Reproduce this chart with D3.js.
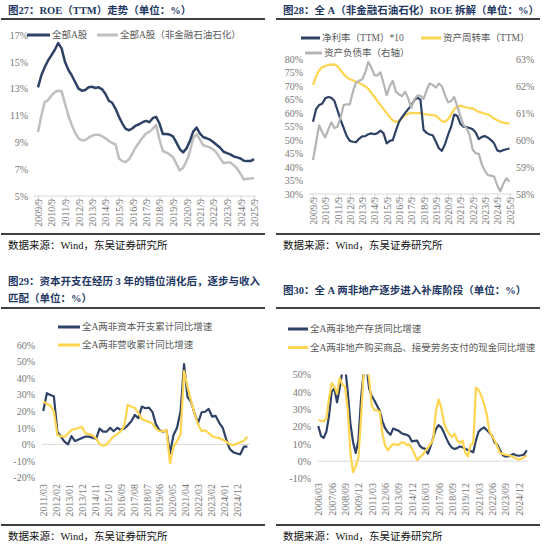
<!DOCTYPE html>
<html>
<head>
<meta charset="utf-8">
<script src="https://cdn.jsdelivr.net/npm/d3@7"></script>
<style>
  body { margin: 0; background: #fff; }
  text { font-family: 'Liberation Serif', 'Noto Sans CJK SC', serif; }
</style>
</head>
<body>
<svg id="chart"></svg>
<script>
// ---- 图27 ROE (TTM), quarterly 2009/9 - 2025/9
const roeTicks = ['2009/9', '2010/9', '2011/9', '2012/9', '2013/9', '2014/9', '2015/9', '2016/9', '2017/9',
  '2018/9', '2019/9', '2020/9', '2021/9', '2022/9', '2023/9', '2024/9', '2025/9'];
const roeAll = [13.1, 14.0, 14.6, 15.1, 15.5, 15.9, 16.4, 16.0, 15.0, 14.4, 14.0, 13.5, 13.0, 12.85, 12.9, 13.1,
  13.15, 13.05, 13.1, 12.95, 12.6, 12.1, 11.95, 11.5, 10.9, 10.4, 10.0, 9.9, 10.05, 10.25, 10.35, 10.5, 10.6,
  10.5, 10.8, 10.9, 10.4, 9.62, 9.62, 9.58, 9.45, 9.0, 8.5, 8.25, 8.55, 9.1, 9.8, 10.1, 9.65, 9.38, 9.3, 9.2,
  9.0, 8.8, 8.6, 8.3, 8.2, 8.1, 7.95, 7.88, 7.8, 7.62, 7.6, 7.6, 7.75];
const roeExFin = [9.77, 11.0, 12.0, 12.15, 12.5, 12.75, 12.85, 12.8, 11.9, 11.0, 10.3, 9.7, 9.3, 9.15, 9.15, 9.35,
  9.5, 9.57, 9.57, 9.45, 9.3, 9.1, 8.95, 8.85, 7.8, 7.6, 7.53, 7.75, 8.2, 8.65, 9.0, 9.35, 9.65, 9.78, 10.0,
  10.3, 9.2, 8.35, 8.25, 8.1, 7.9, 7.4, 6.9, 7.1, 7.6, 8.3, 9.3, 9.6, 9.2, 8.78, 8.7, 8.6, 8.45, 8.2, 7.8,
  7.46, 7.5, 7.5, 7.3, 7.05, 6.65, 6.22, 6.28, 6.3, 6.33];

// ---- 图28 ROE decomposition
const netMargin10 = [56.8, 61.5, 63.0, 63.5, 65.5, 66.0, 65.7, 64.5, 61.0, 57.5, 54.5, 51.5, 49.7, 49.4, 49.2,
  50.5, 51.4, 51.5, 52.2, 52.5, 52.2, 52.6, 53.5, 52.5, 48.8, 49.7, 50.0, 53.5, 56.8, 58.5, 60.0, 61.5, 62.8,
  64.8, 65.8, 65.0, 53.8, 52.7, 52.1, 51.8, 49.5, 47.0, 46.0, 48.5, 52.0, 55.0, 59.5, 59.0, 56.0, 55.0, 54.8,
  54.5, 54.0, 52.8, 50.4, 51.2, 51.5, 50.9, 50.0, 48.8, 46.2, 45.8, 46.3, 46.6, 46.9];
const assetTurnover = [70.5, 73.5, 75.9, 77.0, 77.5, 77.9, 78.0, 78.1, 77.4, 76.0, 74.5, 73.3, 72.6, 72.2, 71.7,
  71.2, 70.6, 70.0, 69.1, 67.5, 66.1, 64.5, 63.0, 61.5, 60.0, 58.6, 57.3, 56.7, 57.2, 58.2, 59.3, 59.8, 60.0,
  60.0, 60.0, 60.0, 59.8, 59.5, 59.4, 59.3, 59.1, 58.0, 57.0, 56.8, 57.8, 59.5, 61.5, 62.5, 62.8, 62.4, 62.1,
  61.9, 61.8, 61.1, 60.5, 60.2, 59.8, 59.5, 58.8, 58.0, 57.4, 56.8, 56.5, 56.3, 56.2];
const debtRatio = [59.26, 59.9, 60.55, 60.3, 60.1, 60.4, 60.66, 60.45, 60.5, 60.85, 61.3, 61.33, 61.33, 61.8,
  62.13, 62.2, 62.25, 62.5, 62.9, 62.7, 62.4, 62.4, 62.52, 62.1, 61.67, 62.0, 62.2, 61.8, 61.7, 61.63, 61.8,
  61.56, 61.2, 61.5, 61.65, 61.65, 61.53, 61.85, 62.1, 62.05, 61.95, 62.1, 62.0, 61.67, 61.4, 61.45, 61.6,
  61.25, 60.9, 60.56, 60.45, 60.2, 59.65, 59.51, 59.5, 59.1, 58.85, 58.7, 58.68, 58.65, 58.32, 58.1, 58.38,
  58.58, 58.46];

// ---- 图29 capex vs revenue, quarterly 2011/03 - 2025/09
const capexTicks = ['2011/03', '2012/02', '2013/01', '2013/12', '2014/11', '2015/10', '2016/09', '2017/08',
  '2018/07', '2019/06', '2020/05', '2021/04', '2022/03', '2023/02', '2024/01', '2024/12'];
const capexGrowth = [20.2, 30.9, 29.8, 29.0, 7.5, 4.6, 1.7, 0, 5.0, 2.0, 2.9, 3.9, 4.7, 4.7, 4.0, 3.3, 9.5, 7.7,
  7.7, 10.0, 7.9, 10.0, 8.7, 9.6, 11.5, 14, 17.8, 15.8, 22.8, 21.8, 22.2, 19.6, 12.2, 8.5, 7.7, 8.5, -5.4, 5.7,
  10, 20, 48.4, 28.5, 25.5, 18.5, 13, 19.4, 19.7, 21.4, 16.8, 17.2, 13.0, 10, 3, -2.8, -4.8, -5.5, -6.0, -1.4,
  -1.4];
const revenueGrowth = [26.0, 24.5, 23.3, 20, 5.7, 4.8, 4.7, 6.5, 8.8, 9.3, 10.0, 10.5, 6.6, 6.2, 5.5, 3.5, 0.2,
  -0.8, 0, 2.5, 4.8, 6.2, 8.0, 11, 23.8, 22.9, 22.0, 19, 15.3, 14.4, 13.6, 12.5, 9.5, 8, 7.8, 8.7, -11.4, -1.5,
  2.0, 6.0, 44.3, 34.5, 26, 18.5, 12, 8.1, 8.5, 7, 4.9, 4.3, 3.8, 2.8, 1.6, 0, -0.4, 0.5, 1.3, 2.2, 4.7];

// ---- 图30 inventory vs cash paid, quarterly 2006/03 - 2025/09
const invTicks = ['2006/03', '2007/06', '2008/09', '2009/12', '2011/03', '2012/06', '2013/09', '2014/12',
  '2016/03', '2017/06', '2018/09', '2019/12', '2021/03', '2022/06', '2023/09', '2024/12'];
const inventoryGrowth = [20.3, 14.5, 13.4, 17, 26, 40, 42, 34, 42, 52, 55, 40, 22, 11, 4.7, 12, 36, 52, 55, 42,
  37.5, 35, 32, 29, 23, 19, 16.7, 15.2, 18.8, 18.2, 17.6, 16.3, 15.6, 15.3, 14.4, 11.4, 11.7, 11.8, 8.8, 7.5,
  7.2, 4.3, 8.5, 13.5, 18.3, 20.8, 19.5, 16.5, 13, 9.8, 7.8, 7.0, 7.5, 8.5, 8.0, 7.2, 6.5, 5.8, 5.1, 12,
  17, 18.5, 19.5, 18, 16.5, 14.8, 10.7, 9.6, 6.5, 3.6, 2.7, 2.7, 3.3, 4.2, 3.4, 3.1, 3.4, 3.8, 6.2];
const cashPaidGrowth = [23.6, 23.3, 23, 24.5, 36, 45, 43, 39, 48, 44, 43, 30, 5, -6.3, -3, 2, 25, 52, 55, 48,
  32, 29.4, 29.4, 28.5, 16, 9, 6.3, 8.2, 10, 9.5, 9.3, 10.7, 10.9, 9.3, 9.7, 7.3, 4.2, 0.6, 2.2, 3.6,
  5.8, 7.7, 10, 12.5, 28.5, 35.6, 31, 22.5, 18, 15.7, 14, 15.8, 12, 10.5, 11.8, 5, 2.8, 9.5, 10.1, 42.5,
  41, 38, 33, 27.5, 17.5, 14.5, 12, 8.5, 4.8, 4.2, 3.7, 3.4, 3.1, 2.3, 1.5, 1.0, 1.3, 2.2, 3.4];

const navy = '#2E4265';
const yellow = '#FFD44F';
const grey = '#BFBFBF';
const labelColor = '#767676';

const svg = d3.select('#chart').attr('width', 550).attr('height', 548);
svg.append('rect').attr('width', 550).attr('height', 548).attr('fill', '#fff');

const parseTick = d3.timeParse('%Y/%m');
const quarterly = (start, n) => d3.range(n).map((i) => d3.timeMonth.offset(start, 3 * i));

function frame(x0, titles, titleY, ruleY, footRuleY) {
  titles.forEach((t, i) => {
    svg.append('text')
      .attr('x', x0 + 8).attr('y', titleY + i * 17)
      .attr('fill', '#1F3864').attr('font-size', 10.5).attr('font-weight', 'bold')
      .text(t);
  });
  [ruleY, footRuleY].forEach((y) => {
    svg.append('line')
      .attr('x1', x0 + 1).attr('x2', x0 + 265).attr('y1', y).attr('y2', y)
      .attr('stroke', '#000').attr('stroke-width', 1.3);
  });
  svg.append('text')
    .attr('x', x0 + 8).attr('y', footRuleY + 11)
    .attr('dominant-baseline', 'central').attr('font-size', 10.5).attr('fill', '#111')
    .text('数据来源：Wind，东吴证券研究所');
}

function yAxis(scale, ticks, x, right) {
  let axis = (right ? d3.axisRight(scale) : d3.axisLeft(scale))
    .tickValues(ticks).tickFormat((d) => d + '%').tickSize(0).tickPadding(0);
  let g = svg.append('g').attr('transform', `translate(${x},0)`).call(axis);
  g.select('.domain').remove();
  g.selectAll('text').attr('fill', labelColor).attr('font-size', 10);
}

function xAxis(scale, labels, y, tickLen, gap) {
  let axis = d3.axisBottom(scale)
    .tickValues(labels.map(parseTick))
    .tickFormat((d, i) => labels[i])
    .tickSizeInner(tickLen).tickSizeOuter(0);
  let g = svg.append('g').attr('transform', `translate(0,${y})`).call(axis);
  g.select('.domain').remove();
  g.selectAll('line').attr('stroke', '#D9D9D9');
  g.selectAll('text')
    .attr('transform', 'rotate(-90)')
    .attr('text-anchor', 'end')
    .attr('x', -gap).attr('y', 0).attr('dy', '0.35em')
    .attr('fill', labelColor).attr('font-size', 10);
}

function hline(x1, x2, y) {
  svg.append('line').attr('x1', x1).attr('x2', x2).attr('y1', y).attr('y2', y)
    .attr('stroke', '#D9D9D9').attr('stroke-width', 1);
}

function series(x, y, dates, values, color, width, clipId) {
  svg.append('path')
    .datum(values)
    .attr('d', d3.line().x((d, i) => x(dates[i])).y((d) => y(d)))
    .attr('fill', 'none').attr('stroke', color).attr('stroke-width', width)
    .attr('stroke-linejoin', 'round')
    .attr('clip-path', clipId ? `url(#${clipId})` : null);
}

function legend(x, y, len, color, label) {
  svg.append('line').attr('x1', x).attr('x2', x + len).attr('y1', y).attr('y2', y)
    .attr('stroke', color).attr('stroke-width', 3);
  svg.append('text').attr('x', x + len + 2).attr('y', y)
    .attr('dominant-baseline', 'central').attr('font-size', 9.5).attr('fill', '#595959')
    .text(label);
}

// ================= 图27
{
  frame(0, ['图27：ROE（TTM）走势（单位：%）'], 14, 19, 234);
  let dates = quarterly(parseTick('2009/9'), roeAll.length);
  let x = d3.scaleTime().domain([dates[0], dates[dates.length - 1]]).range([38, 254]);
  let y = d3.scaleLinear().domain([5, 17]).range([196, 35]);
  yAxis(y, [5, 7, 9, 11, 13, 15, 17], 28, false);
  hline(34, 256, 196);
  xAxis(x, roeTicks, 196, 3, 3);
  series(x, y, dates, roeExFin, grey, 2.5);
  series(x, y, dates, roeAll, navy, 2.5);
  legend(27, 35, 23, navy, '全部A股');
  legend(97, 35, 21, grey, '全部A股（非金融石油石化）');
}

// ================= 图28
{
  frame(275, ['图28：全 A（非金融石油石化）ROE 拆解（单位：%）'], 14, 19, 234);
  let dates = quarterly(parseTick('2009/9'), netMargin10.length);
  let x = d3.scaleTime().domain([dates[0], dates[dates.length - 1]]).range([313, 509.5]);
  let yL = d3.scaleLinear().domain([30, 80]).range([194, 59.3]);
  let yR = d3.scaleLinear().domain([58, 63]).range([194, 59.3]);
  yAxis(yL, d3.range(30, 81, 5), 303, false);
  yAxis(yR, d3.range(58, 64, 1), 516, true);
  hline(309, 512, 194);
  xAxis(x, roeTicks, 194, 3, 3);
  series(x, yL, dates, assetTurnover, yellow, 2.2);
  series(x, yL, dates, netMargin10, navy, 2.2);
  series(x, yR, dates, debtRatio, '#B4B4B4', 2.2);
  legend(301, 38, 19, navy, '净利率（TTM）*10');
  legend(421, 38, 20, yellow, '资产周转率（TTM）');
  legend(305, 53, 17, '#B4B4B4', '资产负债率（右轴）');
}

// ================= 图29
{
  frame(0, ['图29：资本开支在经历 3 年的错位消化后，逐步与收入', '匹配（单位：%）'], 285, 308, 525);
  let dates = quarterly(parseTick('2011/03'), capexGrowth.length);
  let x = d3.scaleTime().domain([dates[0], dates[dates.length - 1]]).range([43.3, 247.4]);
  let y = d3.scaleLinear().domain([-20, 60]).range([477.5, 345]);
  yAxis(y, d3.range(-20, 61, 10), 35, false);
  hline(42, 250, y(0));
  xAxis(x, capexTicks, 482, 0, 2);
  series(x, y, dates, capexGrowth, navy, 2.2);
  series(x, y, dates, revenueGrowth, yellow, 2.2);
  legend(58, 327, 22, navy, '全A两非资本开支累计同比增速');
  legend(58, 345, 22, yellow, '全A两非营收累计同比增速');
}

// ================= 图30
{
  frame(275, ['图30：全 A 两非地产逐步进入补库阶段（单位：%）'], 294, 308, 525);
  let dates = quarterly(parseTick('2006/03'), inventoryGrowth.length);
  let x = d3.scaleTime().domain([dates[0], dates[dates.length - 1]]).range([318.3, 526.7]);
  let y = d3.scaleLinear().domain([-10, 50]).range([478.5, 374.5]);
  svg.append('clipPath').attr('id', 'clip30')
    .append('rect').attr('x', 310).attr('y', y(50)).attr('width', 230).attr('height', 120);
  yAxis(y, d3.range(-10, 51, 10), 311, false);
  hline(317.7, 528, y(0));
  xAxis(x, invTicks, 481, 0, 2);
  series(x, y, dates, inventoryGrowth, navy, 2.2, 'clip30');
  series(x, y, dates, cashPaidGrowth, yellow, 2.2, 'clip30');
  legend(288, 329, 20, navy, '全A两非地产存货同比增速');
  legend(288, 347.5, 20, yellow, '全A两非地产购买商品、接受劳务支付的现金同比增速');
}
</script>
</body>
</html>
